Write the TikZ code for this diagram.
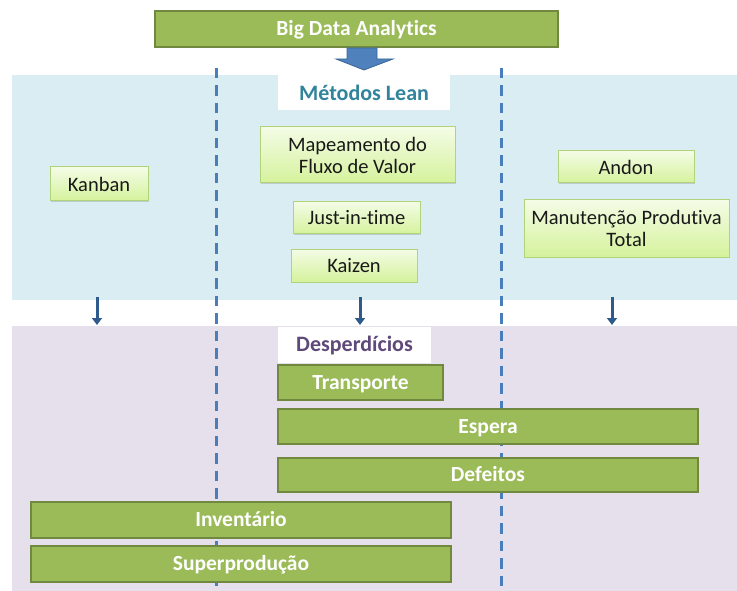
\documentclass[tikz,border=0pt]{standalone}
\usepackage{fontspec}
\setmainfont{Carlito}[Ligatures=CommonOff]
\usetikzlibrary{shadows,arrows.meta}
\definecolor{gmid}{HTML}{9BBB59}
\definecolor{gdark}{HTML}{71893F}
\definecolor{litetop}{HTML}{F4FCE6}
\definecolor{litebot}{HTML}{D5F29C}
\definecolor{liteedge}{HTML}{AFD479}
\definecolor{bandblue}{HTML}{DAEDF3}
\definecolor{bandlilac}{HTML}{E5E0EC}
\definecolor{tealtxt}{HTML}{31849B}
\definecolor{lilactxt}{HTML}{5F497A}
\definecolor{dashblue}{HTML}{4A7EBB}
\definecolor{arrblue}{HTML}{4F81BD}
\definecolor{arredge}{HTML}{3B6699}
\definecolor{smallarr}{HTML}{2E5A8C}
\tikzset{
  greenbar/.style={draw=gdark, line width=1.6pt, fill=gmid, text=white,
    font=\fontsize{21.5}{24}\selectfont\bfseries, inner sep=0pt,
    text height=13.8pt, text depth=0pt,
    drop shadow={shadow xshift=1pt, shadow yshift=-1pt, opacity=0.25}},
  litebox/.style={draw=liteedge, line width=1pt, top color=litetop, bottom color=litebot,
    text=black!90, font=\fontsize{20.5}{23}\selectfont, inner sep=0pt, align=center,
    drop shadow={shadow xshift=1.2pt, shadow yshift=-1.2pt, opacity=0.3}},
  band/.style={inner sep=0pt, anchor=north west},
  tag/.style={fill=white, inner sep=0pt, font=\fontsize{22}{24}\selectfont\bfseries,
    text height=14.2pt, text depth=0pt},
  divider/.style={dashblue, line width=3pt, dash pattern=on 10.5pt off 7pt},
  flowarrow/.style={smallarr, line width=3pt, -{Triangle[width=10pt,length=7pt]}},
}
\begin{document}
\begin{tikzpicture}[x=1pt,y=-1pt]
\useasboundingbox (0,0) rectangle (737,591);
% background bands
\node[band, fill=bandblue, minimum width=725pt, minimum height=225pt] (lean) at (12,75) {};
\node[band, fill=bandlilac, minimum width=725pt, minimum height=265pt] (waste) at (12,326) {};
% band titles
\node[tag, text=tealtxt, minimum width=172pt, minimum height=35pt] (leantag) at (364,93) {Métodos Lean};
\node[tag, text=lilactxt, minimum width=153pt, minimum height=36pt] (wastetag) at (354.5,344.5) {Desperdícios};
% column dividers
\coordinate (d1top) at (216,68);
\coordinate (d1bot) at (216,591);
\coordinate (d2top) at (501,68);
\coordinate (d2bot) at (501,591);
\draw[divider] (d1top) -- (d1bot);
\draw[divider] (d2top) -- (d2bot);
% top source box
\node[greenbar, minimum width=403pt, minimum height=36pt] (bda) at (356.5,29) {Big Data Analytics};
% block arrow from the source into the methods band
\draw[fill=arrblue, draw=arredge, line width=0.8pt]
  (347,48) -- (377,48) -- (377,59) -- (393,59) -- (364,70) -- (336,59) -- (347,59) -- cycle;
% lean methods
\node[litebox, minimum width=98pt, minimum height=34pt] (kanban) at (99,184) {Kanban};
\node[litebox, minimum width=195pt, minimum height=56pt] (vsm) at (357.5,155) {Mapeamento do\\[-1pt]Fluxo de Valor};
\node[litebox, minimum width=127pt, minimum height=32pt] (jit) at (356.5,218) {Just-in-time};
\node[litebox, minimum width=126pt, minimum height=33pt] (kaizen) at (354,265.5) {Kaizen};
\node[litebox, minimum width=136pt, minimum height=32pt] (andon) at (626,167) {Andon};
\node[litebox, minimum width=205pt, minimum height=57pt] (tpm) at (626.5,228.5) {Manutenção Produtiva\\[-1pt]Total};
% flow from methods to wastes
\coordinate (c1) at (97,0);
\coordinate (c2) at (360,0);
\coordinate (c3) at (612,0);
\draw[flowarrow] ([yshift=3pt]lean.south -| c1) -- ([yshift=1pt]waste.north -| c1);
\draw[flowarrow] ([yshift=3pt]lean.south -| c2) -- ([yshift=1pt]waste.north -| c2);
\draw[flowarrow] ([yshift=3pt]lean.south -| c3) -- ([yshift=1pt]waste.north -| c3);
% wastes
\node[greenbar, minimum width=165pt, minimum height=35pt] (transp) at (360.5,382.5) {Transporte};
\node[greenbar, minimum width=420pt, minimum height=35pt] (espera) at (488,426.5) {Espera};
\node[greenbar, minimum width=420pt, minimum height=34pt] (defeitos) at (488,475) {Defeitos};
\node[greenbar, minimum width=420pt, minimum height=36pt] (invent) at (241,520) {Inventário};
\node[greenbar, minimum width=420pt, minimum height=36pt] (superp) at (241,564) {Superprodução};
\end{tikzpicture}
\end{document}
